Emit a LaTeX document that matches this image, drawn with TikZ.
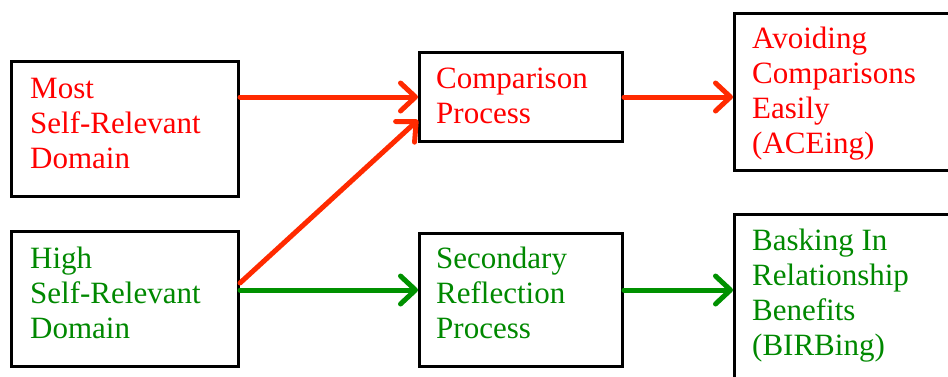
\documentclass[tikz,border=0pt]{standalone}
\usepackage{fontspec}
\setmainfont{Liberation Serif}
\usetikzlibrary{arrows.meta}

\definecolor{txtred}{RGB}{255,0,0}
\definecolor{txtgreen}{RGB}{0,136,0}
\definecolor{arrred}{RGB}{255,42,0}
\definecolor{arrgreen}{RGB}{0,145,0}

\tikzset{
  box/.style={draw=black, line width=3pt, fill=none, rectangle, inner sep=0pt, anchor=north west},
  label/.style={anchor=north west, inner sep=0pt, align=left,
    font=\fontsize{31}{35}\selectfont},
  link/.style={line width=5pt, line cap=round,
    -{Straight Barb[length=15pt, width=28pt, line cap=round, line join=round]}},
}

\begin{document}
\begin{tikzpicture}[x=1pt, y=-1pt]
  \useasboundingbox (0,0) rectangle (948,376);
  \begin{scope}
    \clip (0,0) rectangle (948,376);

    % boxes
    \node[box, minimum width=227pt, minimum height=135pt] (most) at (10,60) {};
    \node[box, minimum width=227pt, minimum height=135pt] (high) at (10,230) {};
    \node[box, minimum width=203pt, minimum height=89pt] (comp) at (418,51) {};
    \node[box, minimum width=203pt, minimum height=133pt] (refl) at (418,232) {};
    \node[box, minimum width=240pt, minimum height=157pt] (ace) at (733,12) {};
    \node[box, minimum width=240pt, minimum height=190pt] (birb) at (733,213) {};

    % labels
    \node[label, text=txtred] (mostT) at (30,73.5) {\strut Most\\Self-Relevant\\Domain};
    \node[label, text=txtgreen] (highT) at (30,243.5) {\strut High\\Self-Relevant\\Domain};
    \node[label, text=txtred] (compT) at (436,63.5) {\strut Comparison\\Process};
    \node[label, text=txtgreen] (reflT) at (436,243.5) {\strut Secondary\\Reflection\\Process};
    \node[label, text=txtred] (aceT) at (752,24) {\strut Avoiding\\Comparisons\\Easily\\(ACEing)};
    \node[label, text=txtgreen] (birbT) at (752,226) {\strut Basking In\\Relationship\\Benefits\\(BIRBing)};

    % connector end points on the box edges
    \coordinate (mostR) at (most.east |- 0,97);
    \coordinate (highR) at (high.east |- 0,283);
    \coordinate (highR2) at (high.east |- 0,290);
    \coordinate (compL) at (comp.west |- 0,97);
    \coordinate (compL2) at (comp.west |- 0,120);
    \coordinate (compR) at (comp.east |- 0,97);
    \coordinate (reflL) at (refl.west |- 0,290);
    \coordinate (reflR) at (refl.east |- 0,290);
    \coordinate (aceL) at (ace.west |- 0,97);
    \coordinate (birbL) at (birb.west |- 0,290);

    % connectors
    \draw[link, arrred] (mostR) -- (compL);
    \draw[link, arrred] (highR) -- (compL2);
    \draw[link, arrgreen] (highR2) -- (reflL);
    \draw[link, arrred] (compR) -- (aceL);
    \draw[link, arrgreen] (reflR) -- (birbL);
  \end{scope}
\end{tikzpicture}
\end{document}
